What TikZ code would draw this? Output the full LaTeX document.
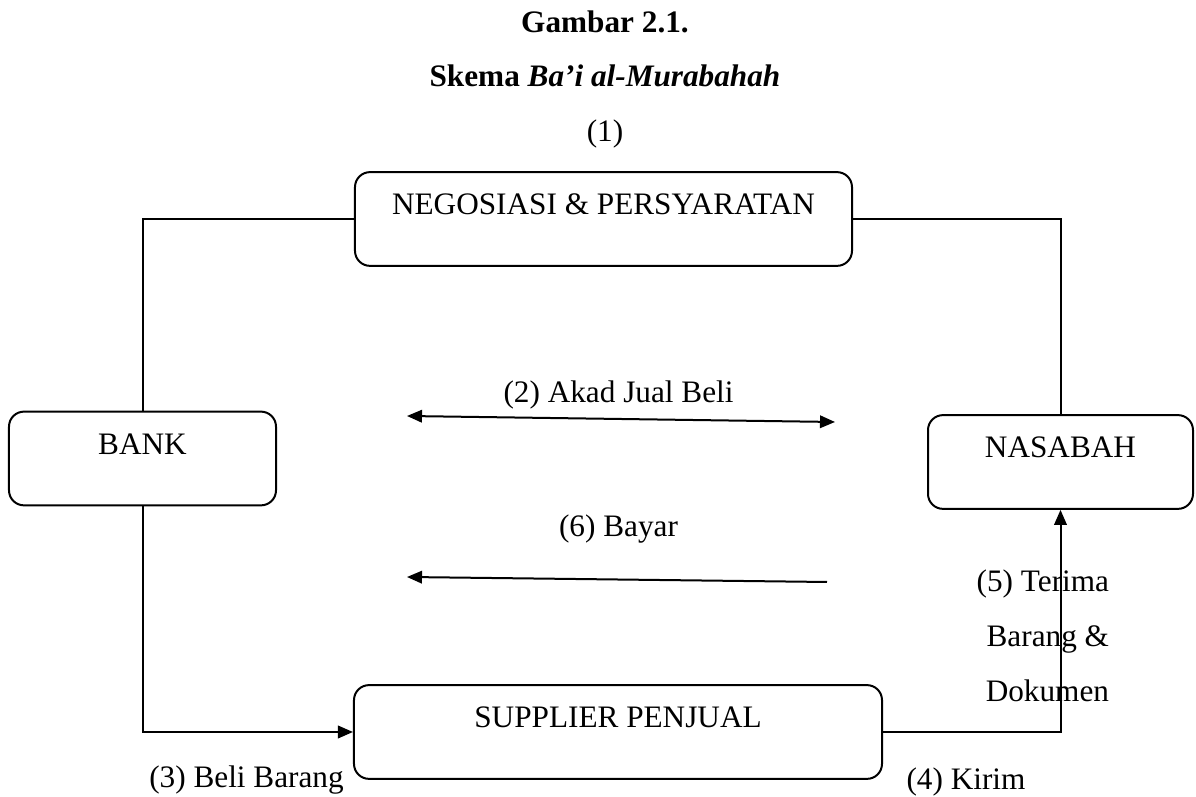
\documentclass[tikz,border=0pt]{standalone}
\usepackage{fontspec}
\setmainfont{Liberation Serif}
\usepackage{tikz}
\usetikzlibrary{arrows.meta}

\begin{document}
\begin{tikzpicture}[x=0.4pt, y=-0.4pt, line width=0.8pt,
    font=\fontsize{12.5}{22}\selectfont,
    box/.style={draw, rectangle, rounded corners=6pt, inner xsep=0pt, inner ysep=0pt,
        text height=17pt, text depth=20.5pt},
    lbl/.style={anchor=base, inner sep=0pt},
    tip/.style={-{Triangle[length=6pt, width=5pt]}}]
    \useasboundingbox (0,0) rectangle (1196,797);
    \node[lbl, font=\fontsize{12.5}{15}\selectfont\bfseries] (judul) at (605,33) {Gambar 2.1.};
    \node[lbl, font=\fontsize{12.5}{15}\selectfont\bfseries] (skema) at (605,87) {Skema \textit{Ba’i al-Murabahah}};
    \node[lbl] (n1) at (605,142) {(1)};
    \node[box, minimum width=198.8pt] (Nego) at (603.5,219) {NEGOSIASI \& PERSYARATAN};
    \node[box, minimum width=106.8pt] (Bank) at (142.5,458.5) {BANK};
    \node[box, minimum width=106pt] (Nasabah) at (1060.5,462) {NASABAH};
    \node[box, minimum width=211.2pt] (Supplier) at (618,732) {SUPPLIER PENJUAL};
    \coordinate (akadL) at (407,416);
    \coordinate (akadR) at (835,422);
    \coordinate (bayarR) at (827,582);
    \coordinate (bayarL) at (407,577);
    \node[lbl] (akad) at (618.5,403) {(2) Akad Jual Beli};
    \node[lbl] (bayar) at (618.5,537) {(6) Bayar};
    \node[lbl] (beli) at (246.5,788) {(3) Beli Barang};
    \node[lbl] (kirim) at (966,790) {(4) Kirim};
    \node[lbl, anchor=base east, align=right] (terima) at (1110,702) {(5) Terima\\Barang \&\\Dokumen};
    \draw (Bank.north) |- (Nego.west);
    \draw (Nego.east) -| (Nasabah.north);
    \draw[{Triangle[length=6pt, width=5pt]}-{Triangle[length=6pt, width=5pt]}] (akadL) -- (akadR);
    \draw[tip] (bayarR) -- (bayarL);
    \draw[tip] (Bank.south) |- (Supplier.west);
    \draw[tip] (Supplier.east) -| (Nasabah.south);
\end{tikzpicture}
\end{document}
